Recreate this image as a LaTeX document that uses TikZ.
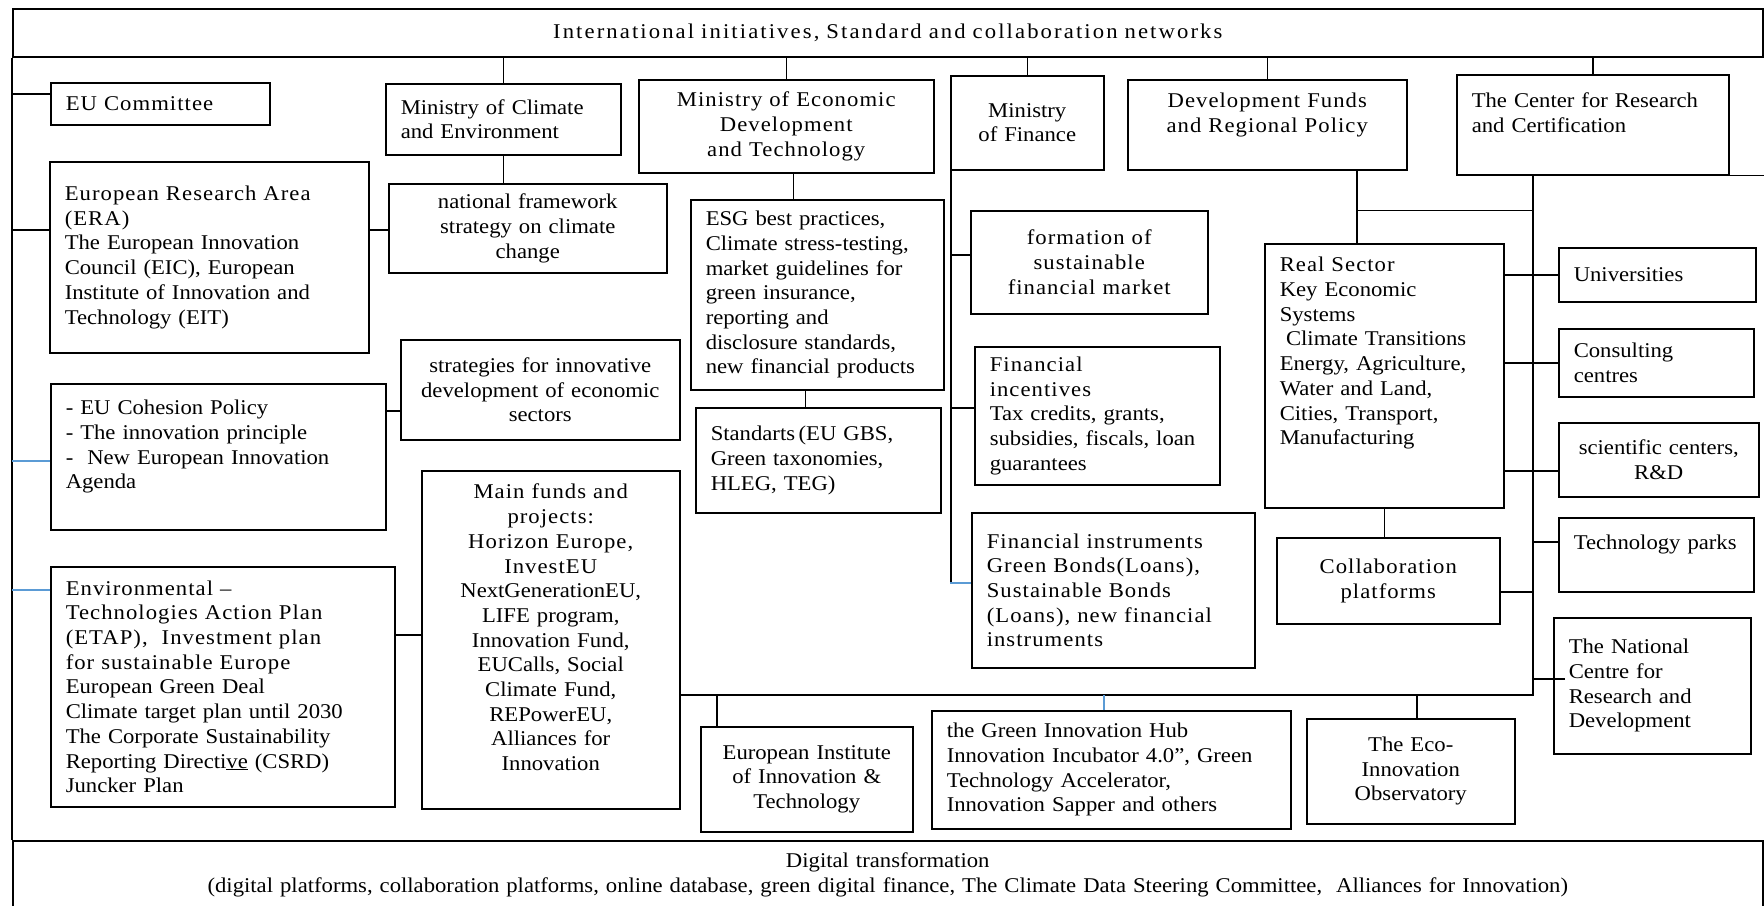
\documentclass[tikz,border=0pt]{standalone}
\usepackage{fontspec}
\setmainfont{Liberation Serif}[FakeStretch=1.08]
\newfontfamily\spacedfont{Liberation Serif}[FakeStretch=1.08, LetterSpace=5]
\newfontfamily\titlefont{Liberation Serif}[FakeStretch=1.08, LetterSpace=10]
\usepackage{tikz}
\definecolor{linkblue}{RGB}{91,155,213}

\tikzset{
    box/.style={draw, line width=1.5pt, anchor=north west, inner xsep=15pt, inner ysep=0pt,
        font=\fontsize{21}{24.7}\selectfont},
    lbox/.style={box, align=left},
    cbox/.style={box, align=center, inner xsep=8pt},
    link/.style={line width=1.5pt},
    bluelink/.style={line width=1.5pt, draw=linkblue},
}

\begin{document}
\begin{tikzpicture}[x=1pt, y=-1pt]
            \useasboundingbox (0,0) rectangle (1764,905);
            \fill[white] (0,0) rectangle (1764,905);

            % Frame:
            % The networks on top and the digital layer at the bottom span the whole width
            \node[cbox, minimum width=1750pt, minimum height=48pt, text width=1734pt] (intl) at (12,8)
                {\titlefont International initiatives, Standard and collaboration networks};
            \node[cbox, minimum width=1750pt, minimum height=68pt, text width=1734pt] (digi) at (12,840)
                {Digital transformation\\(digital platforms, collaboration platforms, online database, green digital finance, The Climate Data Steering Committee,\ \ Alliances for Innovation)};

            % EU level (left column):
            \node[lbox, minimum width=219pt, minimum height=42pt, text width=189pt] (eucom) at (50,82)
                {\spacedfont EU Committee};
            \node[lbox, minimum width=319pt, minimum height=191pt, text width=289pt] (era) at (49,161)
                {{\spacedfont European Research Area}\\{\spacedfont (ERA)}\\The European Innovation\\Council (EIC), European\\Institute of Innovation and\\Technology (EIT)};
            \node[lbox, minimum width=335pt, minimum height=146pt, text width=305pt] (coh) at (50,383)
                {- EU Cohesion Policy\\- The innovation principle\\-\ \ New European Innovation\\Agenda\\\mbox{}};
            \node[lbox, minimum width=344pt, minimum height=240pt, text width=314pt] (etap) at (50,566)
                {{\spacedfont Environmental –}\\{\spacedfont Technologies Action Plan}\\{\spacedfont (ETAP),\ \ Investment plan}\\{\spacedfont for sustainable Europe}\\European Green Deal\\Climate target plan until 2030\\The Corporate Sustainability\\Reporting Directi\underline{ve} (CSRD)\\Juncker Plan};

            % Ministries:
            \node[lbox, minimum width=235pt, minimum height=71pt, text width=205pt] (clim) at (385,83)
                {Ministry of Climate\\and Environment};
            \node[cbox, minimum width=278pt, minimum height=89pt, text width=262pt] (natfw) at (388,183)
                {national framework\\strategy on climate\\change};
            \node[cbox, minimum width=279pt, minimum height=100pt, text width=263pt] (strat) at (400,339)
                {strategies for innovative\\development of economic\\sectors};
            \node[cbox, minimum width=258pt, minimum height=338pt, text width=242pt] (mfund) at (421,470)
                {{\spacedfont Main funds and}\\{\spacedfont projects:}\\{\spacedfont Horizon Europe,}\\{\spacedfont InvestEU}\\NextGenerationEU,\\LIFE program,\\Innovation Fund,\\EUCalls, Social\\Climate Fund,\\REPowerEU,\\Alliances for\\Innovation\\\mbox{}};
            \node[cbox, minimum width=295pt, minimum height=93pt, text width=279pt] (econ) at (638,79)
                {{\spacedfont Ministry of Economic}\\{\spacedfont Development}\\{\spacedfont and Technology}};
            \node[lbox, minimum width=253pt, minimum height=190pt, text width=223pt] (esg) at (690,199)
                {ESG best practices,\\Climate stress-testing,\\market guidelines for\\green insurance,\\reporting and\\disclosure standards,\\new financial products};
            \node[lbox, minimum width=245pt, minimum height=105pt, text width=215pt] (std) at (695,407)
                {Standarts\,(EU GBS,\\Green taxonomies,\\HLEG, TEG)};
            \node[cbox, minimum width=153pt, minimum height=94pt, text width=137pt] (fin) at (950,75)
                {Ministry\\of Finance};
            \node[cbox, minimum width=237pt, minimum height=103pt, text width=221pt] (sfm) at (970,210)
                {{\spacedfont formation of}\\{\spacedfont sustainable}\\{\spacedfont financial market}};
            \node[lbox, minimum width=245pt, minimum height=138pt, text width=215pt] (finc) at (974,346)
                {{\spacedfont Financial}\\{\spacedfont incentives}\\Tax credits, grants,\\subsidies, fiscals, loan\\guarantees};
            \node[lbox, minimum width=283pt, minimum height=155pt, text width=253pt] (finins) at (971,512)
                {{\spacedfont Financial instruments}\\{\spacedfont Green Bonds(Loans),}\\{\spacedfont Sustainable Bonds}\\{\spacedfont (Loans), new financial}\\{\spacedfont instruments}};

            % Regional policy and research:
            \node[cbox, minimum width=279pt, minimum height=90pt, text width=263pt] (devf) at (1127,79)
                {{\spacedfont Development Funds}\\{\spacedfont and Regional Policy}\\\mbox{}};
            \node[lbox, minimum width=272pt, minimum height=100pt, text width=242pt] (ctr) at (1456,74)
                {The Center for Research\\and Certification\\\mbox{}};
            \node[lbox, minimum width=239pt, minimum height=264pt, text width=209pt] (real) at (1264,243)
                {{\spacedfont Real Sector}\\Key Economic\\Systems\\\hspace{0.3em}Climate Transitions\\Energy, Agriculture,\\Water and Land,\\Cities, Transport,\\Manufacturing\\\mbox{}\\\mbox{}};
            \node[cbox, minimum width=223pt, minimum height=86pt, text width=207pt] (collab) at (1276,537)
                {{\spacedfont Collaboration}\\{\spacedfont platforms}};
            \node[lbox, minimum width=197pt, minimum height=54pt, text width=167pt] (univ) at (1558,247)
                {Universities};
            \node[lbox, minimum width=195pt, minimum height=68pt, text width=165pt] (cons) at (1558,328)
                {Consulting\\centres};
            \node[cbox, minimum width=200pt, minimum height=74pt, text width=184pt] (sci) at (1558,422)
                {scientific centers,\\R\&D};
            \node[lbox, minimum width=195pt, minimum height=74pt, text width=165pt] (tech) at (1558,517)
                {Technology parks\\\mbox{}};
            \node[lbox, minimum width=197pt, minimum height=136pt, text width=167pt] (natc) at (1553,617)
                {The National\\Centre for\\Research and\\Development};

            % Bottom row:
            \node[cbox, minimum width=212pt, minimum height=105pt, text width=196pt] (euit) at (700,726)
                {European Institute\\of Innovation \&\\Technology};
            \node[lbox, minimum width=359pt, minimum height=118pt, text width=329pt] (hub) at (931,710)
                {the Green Innovation Hub\\Innovation Incubator 4.0'', Green\\Technology Accelerator,\\Innovation Sapper and others};
            \node[cbox, minimum width=208pt, minimum height=105pt, text width=192pt] (eco) at (1306,718)
                {The Eco-\\Innovation\\Observatory};

            % Connectors:
            % Ministries hang from the top frame
            \foreach \n in {clim,econ,fin,devf,ctr}{%
                \draw[link] (\n.north) -- (\n.north |- intl.south);
            }
            \draw[link] (ctr.south east) -- (ctr.south east -| intl.east);

            % Left trunk with its ticks
            \draw[link] (intl.south west) -- (intl.south west |- digi.north);
            \foreach \b/\s in {eucom/10, era/27.5}{%
                \draw[link] ([yshift=\s pt]\b.west) -- ([yshift=\s pt]\b.west -| intl.west);
            }
            \draw[bluelink] ([yshift=-4pt]coh.west) -- ([yshift=-4pt]coh.west -| intl.west);
            \draw[bluelink] ([yshift=97pt]etap.west) -- ([yshift=97pt]etap.west -| intl.west);

            \draw[link] ([yshift=27.5pt]era.east) -- ([yshift=27.5pt]era.east -| natfw.west);
            \draw[link] (clim.south) -- (clim.south |- natfw.north);
            \draw[link] ([yshift=46pt]coh.east) -- ([yshift=46pt]coh.east -| strat.west);
            \draw[link] ([yshift=52pt]etap.east) -- ([yshift=52pt]etap.east -| mfund.west);
            \draw[link] ([xshift=7pt]econ.south) -- ([xshift=7pt]econ.south |- esg.north);
            \draw[link] ([xshift=-12pt]esg.south) -- ([xshift=-12pt]esg.south |- std.north);

            % Finance trunk
            \coordinate (finjoin) at ([yshift=7.5pt]finins.west);
            \draw[link] ([xshift=1pt]fin.south west) -- ([xshift=1pt]fin.south west |- finjoin);
            \draw[bluelink] (finjoin -| fin.west) -- (finjoin);
            \draw[link] ([yshift=7.5pt]sfm.west) -- ([yshift=7.5pt]sfm.west -| fin.west);
            \draw[link] ([yshift=8pt]finc.west) -- ([yshift=8pt]finc.west -| fin.west);

            % Research trunk and the bus under the middle boxes
            \coordinate (devfoot) at ([xshift=89.5pt]devf.south);
            \coordinate (ctrfoot) at ([xshift=-60pt]ctr.south);
            \coordinate (busw) at ([yshift=-55pt]mfund.east);
            \draw[link] (devfoot) -- (devfoot |- real.north);
            \draw[link] ([yshift=-40pt]devfoot) -- ([yshift=-40pt]devfoot -| ctrfoot);
            \draw[link] (ctrfoot) -- (ctrfoot |- busw) -- (busw);

            \draw[link] (real.east |- univ.west) -- (univ.west);
            \draw[link] (real.east |- cons.west) -- (cons.west);
            \draw[link] ([yshift=-11pt]sci.west) -- ([yshift=-11pt]sci.west -| real.east);
            \draw[link] ([yshift=13pt]tech.west) -- ([yshift=13pt]tech.west -| ctrfoot);
            \draw[link] ([xshift=12pt,yshift=7pt]natc.west) -- ([yshift=7pt]natc.west -| ctrfoot);
            \draw[link] (real.south) -- (real.south |- collab.north);
            \draw[link] ([yshift=-11pt]collab.east) -- ([yshift=-11pt]collab.east -| ctrfoot);

            \draw[link] ([xshift=-90pt]euit.north) -- ([xshift=-90pt]euit.north |- busw);
            \draw[bluelink] ([xshift=-7.5pt]hub.north) -- ([xshift=-7.5pt]hub.north |- busw);
            \draw[link] ([xshift=6pt]eco.north) -- ([xshift=6pt]eco.north |- busw);
\end{tikzpicture}
\end{document}
